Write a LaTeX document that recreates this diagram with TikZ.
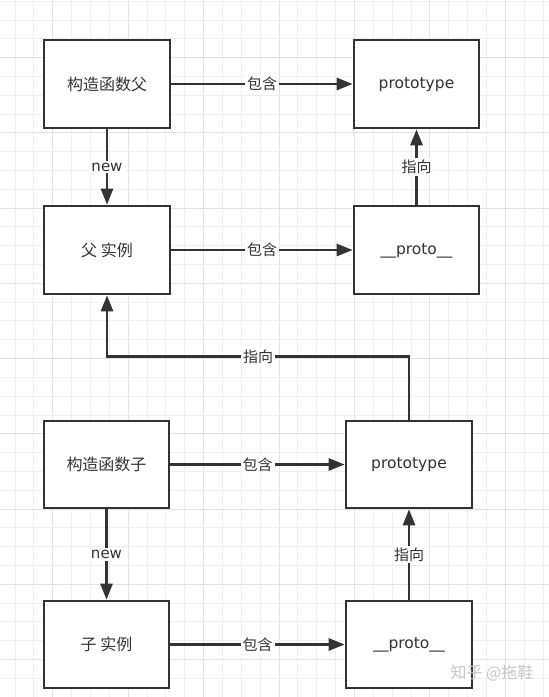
\documentclass[tikz,border=0pt]{standalone}
\usepackage{fontspec}
\setmainfont{DejaVu Sans}
\newfontfamily\cjk{Noto Sans CJK SC}
\usetikzlibrary{arrows.meta}
\definecolor{ink}{HTML}{333333}
\definecolor{gminor}{HTML}{EFEFEF}
\definecolor{gmajor}{HTML}{E2E2E2}
\begin{document}
\begin{tikzpicture}[x=1pt,y=-1pt,
  box/.style={draw=ink, line width=2.7pt, fill=white, rectangle, minimum width=125pt, minimum height=87pt, inner sep=0pt, text=ink},
  zh/.style={font=\cjk\fontsize{16}{19}\selectfont},
  lat/.style={font=\fontsize{15.5}{18}\selectfont, text height=11.5pt, text depth=3pt},
  arr/.style={draw=ink, line width=2.7pt, -{Triangle[length=16pt,width=12pt]}},
  lbl/.style={fill=white, inner sep=2pt, text=ink, font=\cjk\fontsize{15}{18}\selectfont},
  lbllat/.style={fill=white, inner sep=2pt, text=ink, font=\fontsize{15}{18}\selectfont},
  wm/.style={text=black!22, font=\cjk\fontsize{16}{19}\selectfont}]
\useasboundingbox (0,0) rectangle (549,697);
\fill[white] (0,0) rectangle (549,697);
% grid
\foreach \i in {0,...,28}{
  \pgfmathsetmacro\xx{15+\i*18.86}
  \pgfmathtruncatemacro\m{mod(\i,4)}
  \ifnum\m=2 \draw[gmajor,line width=1pt] (\xx,0) -- (\xx,697); \else \draw[gminor,line width=1pt] (\xx,0) -- (\xx,697); \fi
}
\foreach \j in {-1,...,35}{
  \pgfmathsetmacro\yy{20+\j*18.81}
  \pgfmathtruncatemacro\m{mod(\j+4,4)}
  \ifnum\m=2 \draw[gmajor,line width=1pt] (0,\yy) -- (549,\yy); \else \draw[gminor,line width=1pt] (0,\yy) -- (549,\yy); \fi
}
% boxes
\node[box,zh,minimum width=126pt,minimum height=88pt] (A) at (107,84) {构造函数父};
\node[box,lat,minimum height=88pt] (B) at (416.5,84) {prototype};
\node[box,zh,minimum width=126pt,minimum height=88pt] (C) at (107,250) {父 实例};
\node[box,lat,minimum height=88pt] (D) at (416.5,250) {\_\_proto\_\_};
\node[box,zh] (E) at (106.5,464.5) {构造函数子};
\node[box,lat,minimum width=126pt] (F) at (409,464.5) {prototype};
\node[box,zh] (G) at (106.5,644.5) {子 实例};
\node[box,lat,minimum width=126pt] (H) at (409,644.5) {\_\_proto\_\_};
% connectors
\draw[arr] (A) -- node[lbl] {包含} (B);
\draw[arr] (A) -- node[lbllat] {new} (C);
\draw[arr] (C) -- node[lbl] {包含} (D);
\draw[arr] (D) -- node[lbl] {指向} (B);
\draw[arr] (F.north) -- ++(0,-63) -| node[lbl,pos=0.25] {指向} (C.south);
\draw[arr] (E) -- node[lbl] {包含} (F);
\draw[arr] (E) -- node[lbllat] {new} (G);
\draw[arr] (G) -- node[lbl] {包含} (H);
\draw[arr] (H) -- node[lbl] {指向} (F);
% watermark
\node[wm] (W) at (492,673) {知乎 @拖鞋};
\end{tikzpicture}
\end{document}
